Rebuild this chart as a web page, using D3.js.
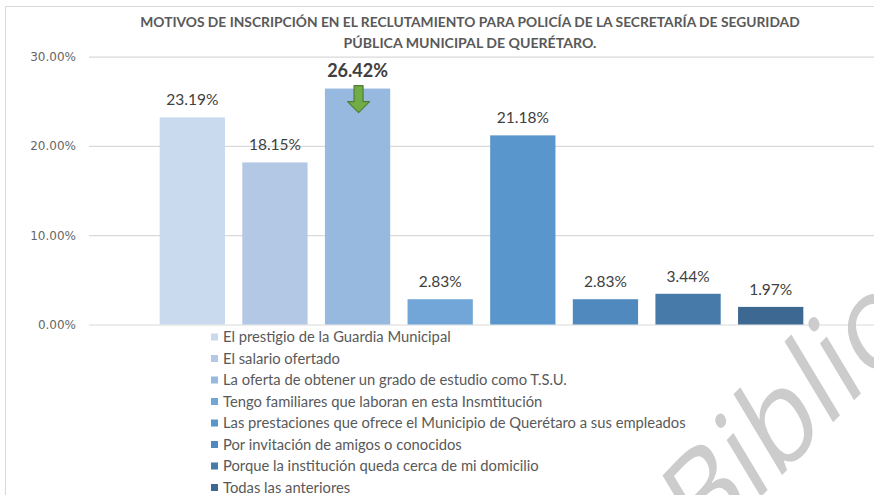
<!DOCTYPE html>
<html>
<head>
<meta charset="utf-8">
<script src="https://cdn.jsdelivr.net/npm/d3@7"></script>
<style>
  html, body { margin: 0; padding: 0; background: #fff; }
  svg { display: block; }
</style>
</head>
<body>
<div id="chart"></div>
<script>
// Motivos de inscripción: one bar per reason, share of respondents
const categories = [
  "El prestigio de la Guardia Municipal",
  "El salario ofertado",
  "La oferta de obtener un grado de estudio como T.S.U.",
  "Tengo familiares que laboran en esta Insmtitución",
  "Las prestaciones que ofrece el Municipio de Querétaro a sus empleados",
  "Por invitación de amigos o conocidos",
  "Porque la institución queda cerca de mi domicilio",
  "Todas las anteriores",
];
const values = [0.2319, 0.1815, 0.2642, 0.0283, 0.2118, 0.0283, 0.0344, 0.0197];
const colors = ["#c9d9ee", "#b3c8e5", "#98b9df", "#72a6d9", "#5896cc", "#4f89bd", "#4779a9", "#3d6892"];
const yTicks = [0, 0.1, 0.2, 0.3];
const highlighted = 2;
const titleLines = [
  "MOTIVOS DE INSCRIPCIÓN EN EL RECLUTAMIENTO PARA POLICÍA DE LA SECRETARÍA DE SEGURIDAD",
  "PÚBLICA MUNICIPAL DE QUERÉTARO.",
];

const width = 874;
const height = 495;
const font = "Lato, 'Open Sans', sans-serif";

const svg = d3.select("#chart")
  .append("svg")
  .attr("width", width)
  .attr("height", height)
  .attr("viewBox", [0, 0, width, height]);

svg.append("rect").attr("width", width).attr("height", height).attr("fill", "#fff");

// chart frame (cut off on right and bottom in the original)
svg.append("rect")
  .attr("x", 5.5).attr("y", 6.5)
  .attr("width", 1000).attr("height", 1000)
  .attr("fill", "none")
  .attr("stroke", "#d9d9d9");

// fit a text node to a target width by adjusting font size
function fitWidth(sel, target) {
  const node = sel.node();
  const size = parseFloat(sel.attr("font-size"));
  const len = node.getComputedTextLength();
  if (len > 0) sel.attr("font-size", (size * target / len).toFixed(2));
}

// title
const titleWidths = [660, 253];
titleLines.forEach((line, i) => {
  const t = svg.append("text")
    .attr("x", 470)
    .attr("y", 27 + i * 21)
    .attr("text-anchor", "middle")
    .attr("font-family", font)
    .attr("font-weight", 700)
    .attr("font-size", 13)
    .attr("fill", "#595959")
    .text(line);
  fitWidth(t, titleWidths[i]);
});

const y = d3.scaleLinear().domain([0, 0.3]).range([324.5, 56.6]);
const x = d3.scaleBand()
  .domain(categories)
  .range([151, 812])
  .paddingInner(0.21)
  .paddingOuter(0.105);

// gridlines + y labels
const yAxis = svg.append("g")
  .attr("transform", "translate(89,0)")
  .call(d3.axisLeft(y).tickValues(yTicks).tickFormat(d3.format(".2%")).tickSize(-(width - 89)).tickPadding(13))
  .call((g) => g.select(".domain").remove());

yAxis.selectAll(".tick line").attr("stroke", "#d9d9d9").attr("stroke-width", 1.2);
yAxis.selectAll(".tick text")
  .attr("fill", "#666")
  .style("font-family", "'DejaVu Sans', sans-serif")
  .style("font-size", "12px");

// watermark, drawn under the chart marks
svg.append("text")
  .attr("transform", "translate(700,560) rotate(-46) skewX(-15)")
  .attr("font-family", "'Open Sans', sans-serif")
  .attr("font-size", 120)
  .attr("font-weight", 400)
  .attr("fill", "#cccccc")
  .text("Biblioteca");

// bars
svg.append("g")
  .selectAll("rect")
  .data(values)
  .join("rect")
  .attr("x", (d, i) => x(categories[i]))
  .attr("y", (d) => y(d))
  .attr("width", x.bandwidth())
  .attr("height", (d) => y(0) - y(d))
  .attr("fill", (d, i) => colors[i]);

// data labels
svg.append("g")
  .selectAll("text")
  .data(values)
  .join("text")
  .attr("x", (d, i) => x(categories[i]) + x.bandwidth() / 2)
  .attr("y", (d) => y(d) - 12)
  .attr("text-anchor", "middle")
  .attr("font-family", font)
  .attr("font-size", (d, i) => (i === highlighted ? 18 : 15.5))
  .attr("font-weight", (d, i) => (i === highlighted ? 700 : 400))
  .attr("fill", "#404040")
  .text((d) => d3.format(".2%")(d));

// green arrow pointing down into the highlighted bar
const ax = x(categories[highlighted]) + x.bandwidth() / 2 + 1;
const ay = y(values[highlighted]) - 3;
const arrow = d3.path();
arrow.moveTo(ax - 4.5, ay);
arrow.lineTo(ax + 4.5, ay);
arrow.lineTo(ax + 4.5, ay + 16);
arrow.lineTo(ax + 11, ay + 16);
arrow.lineTo(ax, ay + 27);
arrow.lineTo(ax - 11, ay + 16);
arrow.lineTo(ax - 4.5, ay + 16);
arrow.closePath();
svg.append("path")
  .attr("d", arrow.toString())
  .attr("fill", "#70ad47")
  .attr("stroke", "#507e32")
  .attr("stroke-width", 1.2)
  .attr("stroke-linejoin", "round");

// legend
const legend = svg.append("g").attr("transform", "translate(211,337)");
const rows = legend.selectAll("g")
  .data(categories)
  .join("g")
  .attr("transform", (d, i) => `translate(0,${i * 21.5})`);

rows.append("rect")
  .attr("x", 0).attr("y", -3.5)
  .attr("width", 7).attr("height", 7)
  .attr("fill", (d, i) => colors[i]);

const legendText = rows.append("text")
  .attr("x", 12)
  .attr("dy", "0.35em")
  .attr("font-family", font)
  .attr("font-size", 14)
  .attr("fill", "#595959")
  .text((d) => d);

// common legend size, fitted on the longest entry
const longest = legendText.filter((d, i) => i === 4);
fitWidth(longest, 463);
legendText.attr("font-size", longest.attr("font-size"));
</script>
</body>
</html>
